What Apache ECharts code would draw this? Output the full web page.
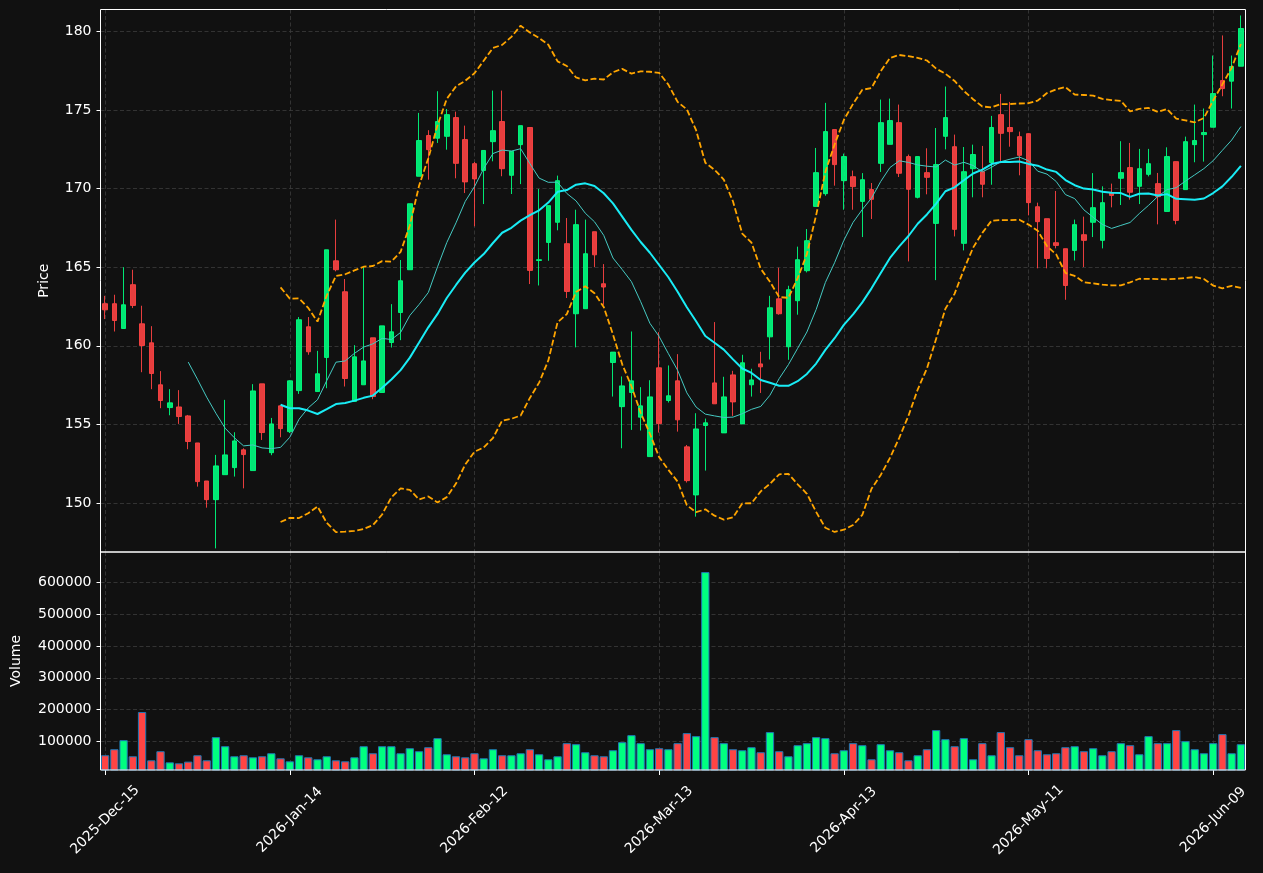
<!DOCTYPE html>
<html>
<head>
<meta charset="utf-8">
<title>Price and Volume</title>
<script src="https://cdn.jsdelivr.net/npm/echarts@6/dist/echarts.min.js"></script>
<style>
  html, body { margin: 0; padding: 0; background: #111111; }
  #chart { width: 1263px; height: 873px; }
</style>
</head>
<body>
<div id="chart"></div>
<script>
// trading days (NYSE calendar) starting 2025-12-15
const startDay = '2025-12-15'
const dayCount = 124
const holidays = ['2025-12-25', '2026-01-01', '2026-01-19', '2026-02-16', '2026-04-03', '2026-05-25']
const monthNames = ['Jan', 'Feb', 'Mar', 'Apr', 'May', 'Jun', 'Jul', 'Aug', 'Sep', 'Oct', 'Nov', 'Dec']
const labelEvery = 20

// [open, close, low, high]
const ohlc = [
  [162.68, 162.29, 161.70, 163.18], [162.68, 161.61, 160.91, 163.25], [161.10, 162.61, 161.10, 165.00], [163.89, 162.57, 162.40, 164.84],
  [161.40, 160.02, 158.32, 162.55], [160.19, 158.24, 157.24, 161.25], [157.52, 156.52, 156.03, 158.39], [156.07, 156.37, 155.58, 157.24],
  [156.11, 155.50, 155.03, 157.18], [155.54, 153.91, 153.42, 155.60], [153.82, 151.36, 151.04, 153.82], [151.40, 150.21, 149.70, 151.40],
  [150.21, 152.36, 147.11, 153.06], [151.80, 153.06, 151.80, 156.56], [152.25, 153.95, 151.68, 154.50], [153.38, 153.08, 150.93, 153.48],
  [152.06, 157.13, 152.06, 157.56], [157.58, 154.48, 154.01, 157.58], [153.20, 155.03, 153.04, 155.41], [156.18, 154.73, 154.18, 156.18],
  [154.54, 157.77, 154.45, 157.80], [157.15, 161.66, 156.94, 161.83], [161.21, 159.62, 159.43, 161.83], [157.09, 158.22, 157.09, 159.68],
  [159.26, 166.11, 157.30, 166.11], [165.41, 164.84, 164.74, 168.03], [163.44, 157.92, 157.41, 164.25], [156.46, 159.30, 156.46, 160.04],
  [157.52, 159.04, 157.52, 165.05], [160.51, 156.77, 156.60, 160.51], [157.03, 161.27, 157.03, 161.27], [160.21, 160.89, 159.89, 162.65],
  [162.12, 164.14, 160.36, 165.46], [164.84, 169.04, 164.84, 169.04], [170.79, 173.06, 170.79, 174.82], [173.38, 172.48, 170.57, 173.72],
  [173.21, 174.27, 172.91, 176.20], [173.33, 174.71, 172.48, 175.07], [174.52, 171.61, 170.66, 174.90], [173.12, 170.43, 169.72, 174.01],
  [171.59, 170.62, 167.60, 171.70], [171.16, 172.43, 169.02, 172.43], [172.99, 173.69, 171.74, 176.24], [174.27, 171.27, 170.79, 176.24],
  [170.85, 172.38, 169.66, 172.38], [172.80, 174.01, 170.29, 174.01], [173.89, 164.80, 163.93, 173.89], [165.43, 165.48, 163.84, 169.98],
  [166.58, 168.92, 165.41, 168.92], [167.86, 170.51, 167.35, 170.83], [166.50, 163.46, 163.04, 168.13], [162.04, 167.71, 159.90, 168.66],
  [162.36, 165.86, 162.36, 168.03], [167.26, 165.79, 165.01, 167.26], [163.95, 163.74, 162.61, 165.20], [158.94, 159.60, 156.77, 159.60],
  [156.13, 157.45, 153.48, 158.05], [157.03, 157.77, 154.65, 160.91], [155.46, 156.18, 154.61, 157.37], [152.95, 156.75, 152.95, 157.81],
  [158.60, 155.05, 154.48, 160.87], [156.52, 156.82, 156.39, 158.75], [157.77, 155.29, 154.54, 159.47], [153.57, 151.42, 151.30, 153.69],
  [150.51, 154.71, 149.13, 155.71], [154.93, 155.10, 152.06, 155.37], [157.64, 156.31, 156.31, 161.51], [154.46, 156.75, 154.46, 158.03],
  [158.15, 156.43, 155.54, 158.41], [155.03, 158.92, 155.03, 159.43], [157.52, 157.83, 156.77, 158.54], [158.85, 158.66, 157.00, 159.62],
  [160.57, 162.42, 159.13, 163.18], [162.99, 162.04, 161.98, 164.97], [159.94, 163.57, 159.11, 163.82], [162.87, 165.48, 161.98, 166.31],
  [164.78, 166.69, 164.67, 167.43], [168.87, 171.02, 168.87, 172.59], [169.68, 173.63, 169.55, 175.46], [173.76, 171.53, 170.19, 173.76],
  [170.51, 172.04, 168.66, 172.23], [170.76, 170.13, 168.66, 171.15], [169.19, 170.57, 166.92, 170.99], [169.94, 169.32, 168.07, 170.36],
  [171.61, 174.20, 171.06, 175.67], [172.82, 174.33, 172.82, 175.73], [174.20, 170.98, 170.74, 175.35], [172.04, 169.96, 165.37, 172.17],
  [169.45, 172.04, 169.38, 172.04], [171.02, 170.72, 169.64, 172.57], [167.79, 171.53, 164.18, 173.86], [173.33, 174.52, 172.50, 176.50],
  [172.67, 167.41, 166.96, 173.44], [166.52, 171.08, 166.07, 172.65], [171.27, 172.17, 169.45, 172.80], [171.08, 170.28, 169.45, 172.72],
  [171.66, 173.89, 170.25, 174.63], [174.71, 173.52, 171.74, 176.03], [173.89, 173.63, 172.67, 175.52], [173.31, 172.12, 170.85, 173.63],
  [173.50, 169.11, 168.30, 173.50], [168.85, 167.90, 164.93, 169.11], [168.09, 165.56, 164.93, 168.09], [166.56, 166.39, 166.20, 169.85],
  [166.18, 163.84, 162.93, 166.18], [166.07, 167.71, 165.43, 168.03], [167.07, 166.71, 165.01, 168.22], [167.86, 168.79, 166.92, 170.99],
  [166.71, 169.11, 166.20, 170.15], [169.73, 169.57, 168.81, 170.32], [170.66, 171.02, 168.96, 173.02], [171.34, 169.77, 169.30, 172.91],
  [170.15, 171.27, 169.02, 172.53], [170.91, 171.59, 170.78, 172.53], [170.32, 169.49, 167.73, 171.00], [168.55, 172.04, 168.55, 172.63],
  [171.72, 167.98, 167.73, 171.72], [169.94, 172.99, 169.94, 173.31], [172.80, 173.06, 171.68, 175.35], [173.44, 173.57, 171.72, 175.10],
  [173.91, 176.05, 173.91, 178.47], [176.88, 176.37, 175.88, 179.75], [176.84, 177.77, 175.10, 178.47], [177.79, 180.19, 177.79, 181.02]
]

const volumes = [
  55600, 74600, 103200, 52400, 192000, 39700, 68300, 33300, 30200, 35500,
  55600, 39700, 112700, 84100, 52400, 55600, 49200, 52400, 61900, 46000,
  36500, 55600, 49200, 42900, 52400, 39700, 36500, 49200, 84100, 61900,
  84100, 84100, 61900, 77800, 68300, 81000, 109500, 58700, 52400, 49200,
  61900, 46000, 74600, 55600, 55600, 61900, 74600, 58700, 42900, 52400,
  93700, 90500, 65100, 55600, 52400, 71400, 96800, 119000, 93700, 74600,
  77800, 74600, 93700, 125400, 115900, 633300, 112700, 93700, 74600, 71400,
  81000, 65100, 128600, 68300, 52400, 87300, 93700, 112700, 109500, 61900,
  71400, 93700, 87300, 42900, 90500, 71400, 65100, 39700, 55600, 74600,
  134900, 106300, 84100, 109500, 42900, 93700, 55600, 128600, 81000, 55600,
  106300, 71400, 58700, 61900, 81000, 84100, 68300, 77800, 55600, 68300,
  93700, 87300, 58700, 115900, 93700, 93700, 134900, 100000, 74600, 61900,
  93700, 122200, 61900, 90500
]

const upColor = '#00ff80'
const downColor = '#ff4444'
const gridLine = { color: '#3c3c3c', width: 0.8, type: [4, 2.5] }
const bandLine = { color: '#ffa500', width: 1.8, type: [6, 2.6] }

function tradingDays (start, n) {
  const out = []
  const d = new Date(start + 'T00:00:00Z')
  while (out.length < n) {
    const iso = d.toISOString().slice(0, 10)
    const wd = d.getUTCDay()
    if (wd !== 0 && wd !== 6 && holidays.indexOf(iso) < 0) {
      out.push(d.getUTCFullYear() + '-' + monthNames[d.getUTCMonth()] + '-' + String(d.getUTCDate()).padStart(2, '0'))
    }
    d.setUTCDate(d.getUTCDate() + 1)
  }
  return out
}

// rolling mean / bollinger bands of the closes
function rollingMean (vals, n) {
  return vals.map((v, i) => {
    if (i < n - 1) return '-'
    const w = vals.slice(i - n + 1, i + 1)
    return w.reduce((a, b) => a + b, 0) / n
  })
}
function rollingBand (vals, n, k, sign) {
  return vals.map((v, i) => {
    if (i < n - 1) return '-'
    const w = vals.slice(i - n + 1, i + 1)
    const m = w.reduce((a, b) => a + b, 0) / n
    const sd = Math.sqrt(w.reduce((a, b) => a + (b - m) * (b - m), 0) / n)
    return m + sign * k * sd
  })
}

const dates = tradingDays(startDay, dayCount)
const closes = ohlc.map(d => d[1])
const showTick = (i) => i % labelEvery === 0

const chart = echarts.init(document.getElementById('chart'))
chart.setOption({
  backgroundColor: '#111111',
  animation: false,
  textStyle: { fontFamily: 'DejaVu Sans' },
  grid: [
    { left: 100.5, right: 17.5, top: 9.5, height: 542.5, show: true, borderColor: '#ffffff', borderWidth: 1, z: 5 },
    { left: 100.5, right: 17.5, top: 552, height: 218, show: true, borderColor: '#ffffff', borderWidth: 1, z: 5 }
  ],
  xAxis: [
    {
      type: 'category',
      gridIndex: 0,
      data: dates,
      boundaryGap: true,
      axisLine: { show: false },
      axisTick: { show: false },
      axisLabel: { show: false },
      splitLine: { show: true, interval: showTick, alignWithLabel: true, lineStyle: gridLine }
    },
    {
      type: 'category',
      gridIndex: 1,
      data: dates,
      boundaryGap: true,
      axisLine: { show: false },
      axisTick: { show: true, interval: showTick, alignWithLabel: true, length: 5, lineStyle: { color: '#ffffff', width: 1 } },
      axisLabel: { interval: showTick, rotate: 45, align: 'center', verticalAlign: 'middle', color: '#ffffff', fontSize: 14, margin: 50 },
      splitLine: { show: true, interval: showTick, alignWithLabel: true, lineStyle: gridLine }
    }
  ],
  yAxis: [
    {
      type: 'value',
      gridIndex: 0,
      min: 146.88,
      max: 181.4,
      splitNumber: 7,
      name: 'Price',
      nameLocation: 'middle',
      nameGap: 49,
      nameTextStyle: { color: '#ffffff', fontSize: 14 },
      axisLine: { show: false },
      axisTick: { show: true, length: 4, lineStyle: { color: '#ffffff' } },
      axisLabel: { color: '#ffffff', fontSize: 14, margin: 9, showMinLabel: false, showMaxLabel: false },
      splitLine: { show: true, showMinLine: false, showMaxLine: false, lineStyle: gridLine }
    },
    {
      type: 'value',
      gridIndex: 1,
      min: 9060,
      max: 696630,
      splitNumber: 7,
      name: 'Volume',
      nameLocation: 'middle',
      nameGap: 77,
      nameTextStyle: { color: '#ffffff', fontSize: 14 },
      axisLine: { show: false },
      axisTick: { show: true, length: 4, lineStyle: { color: '#ffffff' } },
      axisLabel: { color: '#ffffff', fontSize: 14, margin: 9, showMinLabel: false, showMaxLabel: false, formatter: v => String(v) },
      splitLine: { show: true, showMinLine: false, showMaxLine: false, lineStyle: gridLine }
    }
  ],
  series: [
    {
      name: 'Price',
      type: 'candlestick',
      xAxisIndex: 0,
      yAxisIndex: 0,
      data: ohlc,
      barWidth: 5,
      itemStyle: {
        color: upColor,
        color0: downColor,
        borderColor: upColor,
        borderColor0: downColor,
        borderWidth: 1,
        opacity: 0.9
      }
    },
    {
      name: 'MA10',
      type: 'line',
      data: rollingMean(closes, 10),
      symbol: 'none',
      lineStyle: { color: '#45c9c2', width: 1 }
    },
    {
      name: 'MA20',
      type: 'line',
      data: rollingMean(closes, 20),
      symbol: 'none',
      lineStyle: { color: '#19ecf5', width: 2 }
    },
    {
      name: 'Upper',
      type: 'line',
      data: rollingBand(closes, 20, 2, 1),
      symbol: 'none',
      lineStyle: bandLine
    },
    {
      name: 'Lower',
      type: 'line',
      data: rollingBand(closes, 20, 2, -1),
      symbol: 'none',
      lineStyle: bandLine
    },
    {
      name: 'Volume',
      type: 'bar',
      xAxisIndex: 1,
      yAxisIndex: 1,
      barWidth: '90%',
      data: volumes.map((v, i) => ({
        value: v,
        itemStyle: { color: ohlc[i][1] >= ohlc[i][0] ? upColor : downColor }
      })),
      itemStyle: { borderColor: '#1f77b4', borderWidth: 1 }
    }
  ]
})
</script>
</body>
</html>
